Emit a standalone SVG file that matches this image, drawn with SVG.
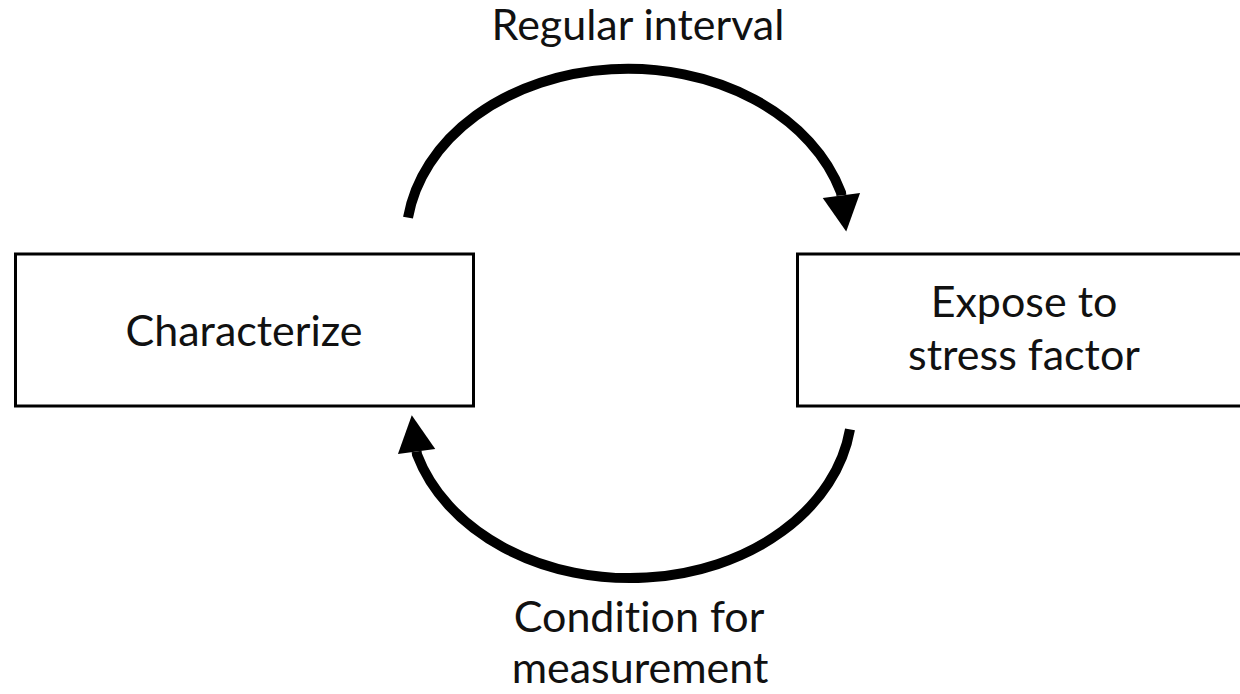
<svg xmlns="http://www.w3.org/2000/svg" width="1240" height="694" viewBox="0 0 1240 694">
  <style>
    .box { fill: #ffffff; stroke: #000000; stroke-width: 3; }
    .lbl { font-family: Lato, "Open Sans", "Liberation Sans", sans-serif; font-size: 43px; fill: #111111; text-anchor: middle; font-variant-ligatures: none; font-feature-settings: "liga" 0, "clig" 0; }
    .arc { fill: none; stroke: #000000; stroke-width: 10; stroke-linecap: butt; }
  </style>
  <defs>
    <marker id="head" markerUnits="userSpaceOnUse" markerWidth="40" markerHeight="40" viewBox="0 -17 32 34" refX="0" refY="0" orient="auto">
      <path d="M0,-16 L31,0 L0,16 Z" fill="#000000"/>
    </marker>
  </defs>
  <rect width="1240" height="694" fill="#ffffff"/>
  <g id="connectors">
    <path class="arc" d="M 408 217.7 A 222 172 0 0 1 841 192.4 L 841.4 195.4" marker-end="url(#head)"/>
    <path class="arc" d="M 850 429.3 A 222 172 0 0 1 417 454.5 L 416.6 451.5" marker-end="url(#head)"/>
  </g>
  <g id="label-regular">
    <text class="lbl" x="638" y="40">Regular interval</text>
  </g>
  <g id="label-condition">
    <text class="lbl" x="639" y="632">Condition for</text>
    <text class="lbl" x="640" y="683">measurement</text>
  </g>
  <g id="node-characterize">
    <rect class="box" x="15.5" y="254" width="458" height="152"/>
    <text class="lbl" x="244" y="346">Characterize</text>
  </g>
  <g id="node-expose">
    <rect class="box" x="797.5" y="254" width="454" height="152"/>
    <text class="lbl" x="1024" y="317">Expose to</text>
    <text class="lbl" x="1024" y="370">stress factor</text>
  </g>
</svg>
